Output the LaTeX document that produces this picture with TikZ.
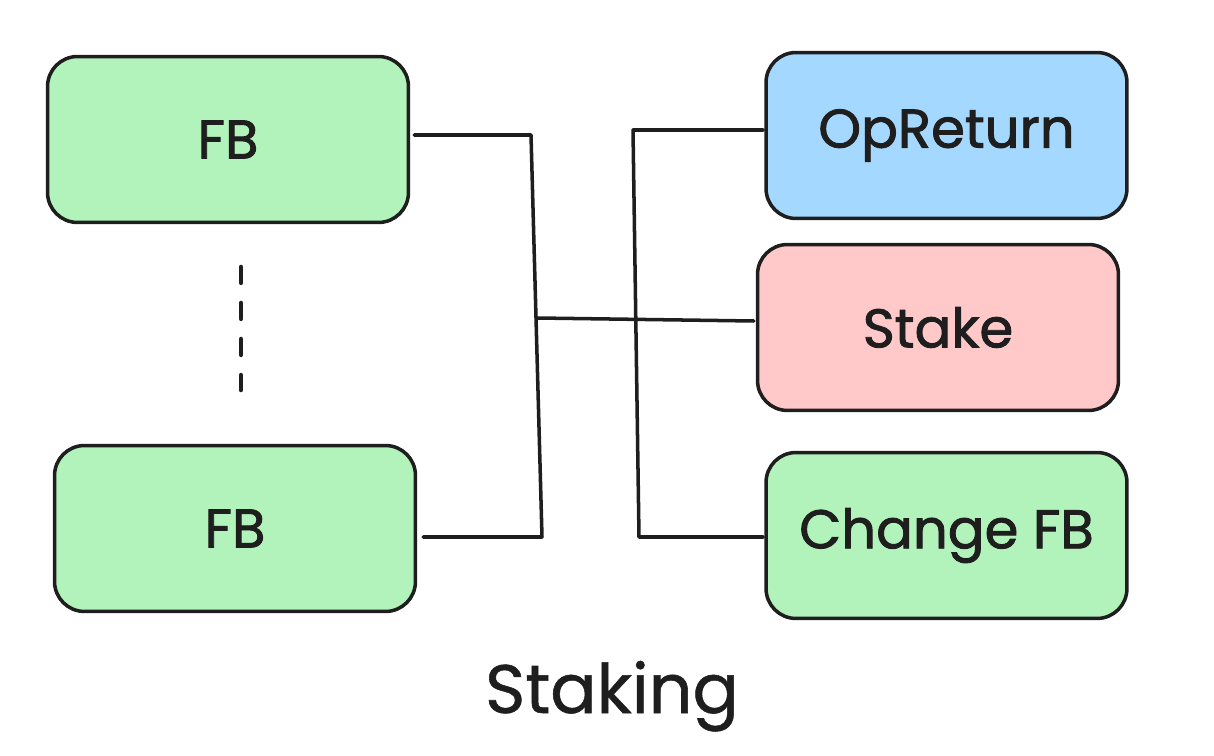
\documentclass[tikz,border=0pt]{standalone}
\usepackage{fontspec}
\setmainfont{Poppins}
\newfontfamily\lblfont{Poppins}[FakeBold=1.6]
\newfontfamily\capfont{Poppins}[FakeBold=0.8]
\usepackage{tikz}
\usetikzlibrary{calc}
\definecolor{stkGreen}{HTML}{B2F2BB}
\definecolor{stkBlue}{HTML}{A5D8FF}
\definecolor{stkRed}{HTML}{FFC9C9}
\definecolor{stkInk}{HTML}{1E1E1E}

\begin{document}
\begin{tikzpicture}[x=0.02cm, y=-0.02cm,
    blk/.style={rectangle, rounded corners=0.6cm, draw=stkInk, line width=2pt,
                minimum width=7.22cm, minimum height=3.32cm, text=stkInk,
                font=\lblfont\fontsize{31}{36}\selectfont},
    wire/.style={draw=stkInk, line width=2pt, line join=round, line cap=round}]
  \useasboundingbox (0,0) rectangle (1214,756);

  \node[blk, fill=stkGreen] (fbTop) at (228,139.5) {FB};
  \node[blk, fill=stkGreen] (fbBot) at (235,528.5) {FB};
  \node[blk, fill=stkBlue]  (opRet) at (946.5,135.5) {OpReturn};
  \node[blk, fill=stkRed]   (stake) at (938,327.5) {Stake};
  \node[blk, fill=stkGreen] (chgFb) at (946.5,535.5) {Change FB};

  \coordinate (lTop) at (531,135);
  \coordinate (lBot) at (542,537);
  \coordinate (lMid) at (537,318);
  \coordinate (rTop) at (633,130);
  \coordinate (rBot) at (639,537);
  \coordinate (dotsA) at (241,267);
  \coordinate (dotsB) at (241,390);

  \draw[wire] ($(fbTop.east)+(4,-4.5)$) -- (lTop) -- (lBot) -- ($(fbBot.east)+(6,8.5)$);
  \draw[wire] (lMid) -- ($(stake.west)+(-2,-6.5)$);
  \draw[wire] ($(opRet.west)+(-1,-5.5)$) -- (rTop) -- (rBot) -- ($(chgFb.west)+(-1,1.5)$);
  \draw[wire, line width=2.6pt, dash pattern=on 9pt off 11.5pt] (dotsA) -- (dotsB);

  \node[anchor=base, text=stkInk, font=\capfont\fontsize{39}{44}\selectfont] (title) at (612,713) {Staking};
\end{tikzpicture}
\end{document}
